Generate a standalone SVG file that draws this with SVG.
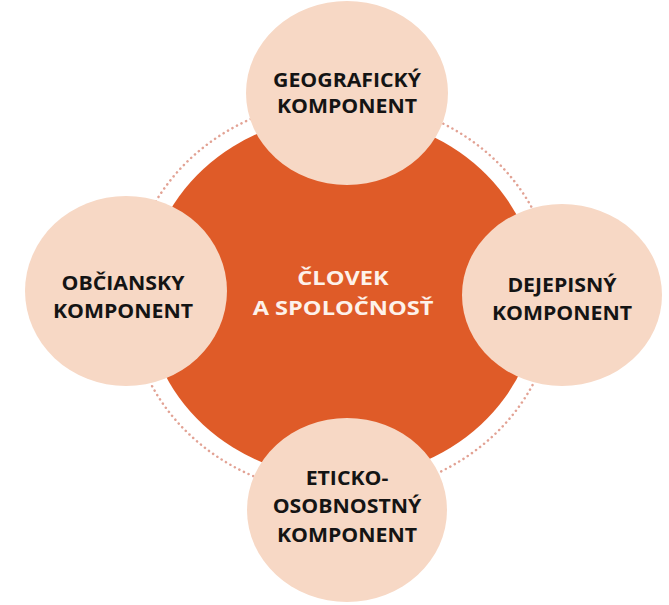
<svg xmlns="http://www.w3.org/2000/svg" width="669" height="605" viewBox="0 0 669 605">
<style>
.bg{fill:#ffffff}
.hub{fill:#df5b28}
.sat{fill:#f7d8c5}
.ring{fill:none;stroke:#e2a294;stroke-width:2.5;stroke-dasharray:0.1 5;stroke-linecap:round}
.lbl{font-family:"Open Sans","Liberation Sans",sans-serif;font-weight:700;font-size:19px;text-anchor:middle;fill:#141414}
.hubtxt{fill:#fdf1ea;font-size:20px}
</style>
<rect class="bg" x="0" y="0" width="669" height="605"/>
<g id="ring">
<ellipse class="ring" cx="342" cy="297" rx="213" ry="197"/>
</g>
<g id="center">
<ellipse class="hub" cx="342" cy="297" rx="196" ry="181"/>
<text class="lbl hubtxt" transform="translate(343 285) scale(1.18 1)">ČLOVEK</text>
<text class="lbl hubtxt" transform="translate(343 315) scale(1.18 1)">A SPOLOČNOSŤ</text>
</g>
<g id="geograficky">
<ellipse class="sat" cx="347" cy="93" rx="101" ry="92"/>
<text class="lbl" transform="translate(347 87) scale(1.12 1)">GEOGRAFICKÝ</text>
<text class="lbl" transform="translate(347 113) scale(1.12 1)">KOMPONENT</text>
</g>
<g id="obciansky">
<ellipse class="sat" cx="126" cy="291" rx="101" ry="95"/>
<text class="lbl" transform="translate(123 290) scale(1.12 1)">OBČIANSKY</text>
<text class="lbl" transform="translate(123 318) scale(1.12 1)">KOMPONENT</text>
</g>
<g id="dejepisny">
<ellipse class="sat" cx="562" cy="295" rx="100" ry="91"/>
<text class="lbl" transform="translate(562 292) scale(1.12 1)">DEJEPISNÝ</text>
<text class="lbl" transform="translate(562 320) scale(1.12 1)">KOMPONENT</text>
</g>
<g id="eticko">
<ellipse class="sat" cx="347" cy="510" rx="100" ry="92"/>
<text class="lbl" transform="translate(347 485) scale(1.12 1)">ETICKO-</text>
<text class="lbl" transform="translate(347 513) scale(1.12 1)">OSOBNOSTNÝ</text>
<text class="lbl" transform="translate(347 542) scale(1.12 1)">KOMPONENT</text>
</g>
</svg>
